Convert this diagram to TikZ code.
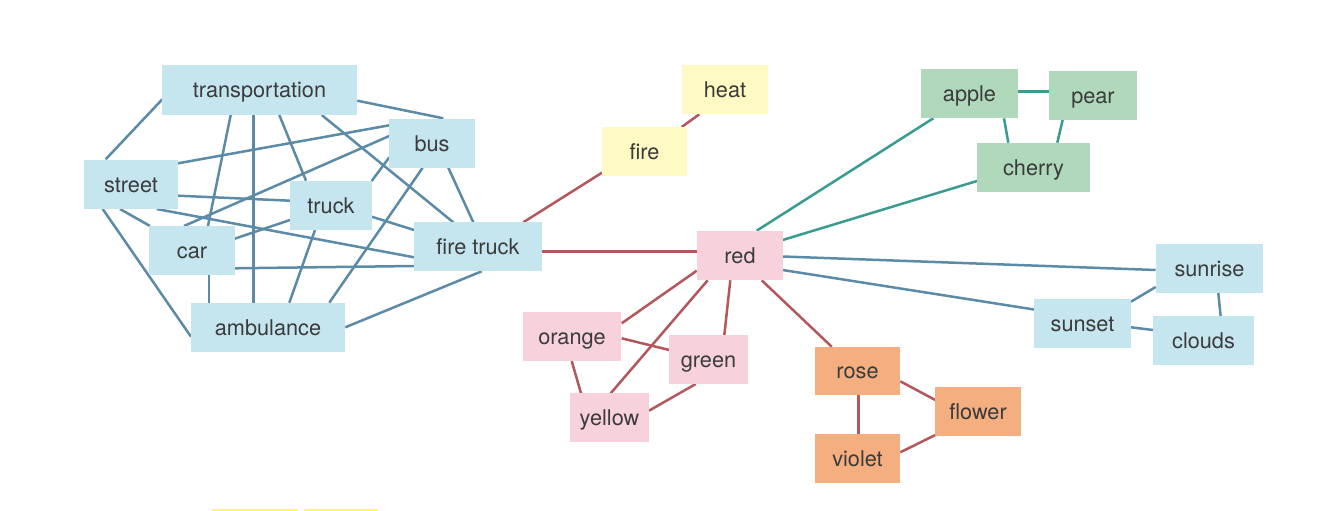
\documentclass[tikz,border=0pt]{standalone}
\usepackage{fontspec}
\setmainfont{TeX Gyre Heros}
\usetikzlibrary{backgrounds,calc}
\definecolor{txt}{HTML}{3B3B3B}
\definecolor{bluebox}{HTML}{C5E6EF}
\definecolor{yellowbox}{HTML}{FFF9C4}
\definecolor{pinkbox}{HTML}{F7D2DD}
\definecolor{greenbox}{HTML}{B0D9BB}
\definecolor{orangebox}{HTML}{F4AE7F}
\definecolor{blueedge}{HTML}{5B8BA7}
\definecolor{rededge}{HTML}{B3575C}
\definecolor{tealedge}{HTML}{3A9B90}
\definecolor{markyellow}{HTML}{FFFF55}
\tikzset{
  box/.style={rectangle, inner sep=0pt, minimum height=49pt, text height=15pt, text depth=0pt,
    font=\fontsize{21.7}{24}\selectfont, text=txt},
  bbox/.style={box, fill=bluebox},
  ybox/.style={box, fill=yellowbox},
  pbox/.style={box, fill=pinkbox},
  gbox/.style={box, fill=greenbox},
  obox/.style={box, fill=orangebox},
  be/.style={draw=blueedge, line width=2.5pt},
  re/.style={draw=rededge, line width=2.5pt},
  te/.style={draw=tealedge, line width=2.5pt},
}
\begin{document}
\begin{tikzpicture}[x=1pt, y=-1pt]
\useasboundingbox (0,0) rectangle (1334,511);
% nodes
\node[bbox, minimum width=195pt] (transportation) at (259.5,90) {transportation};
\node[bbox, minimum width=86pt] (bus) at (432,143.5) {bus};
\node[bbox, minimum width=94pt] (street) at (131,184.5) {street};
\node[bbox, minimum width=82pt] (truck) at (331,205.5) {truck};
\node[bbox, minimum width=86pt] (car) at (192,250.5) {car};
\node[bbox, minimum width=128pt] (firetruck) at (478,246.5) {fire truck};
\node[bbox, minimum width=154pt] (ambulance) at (268,327.5) {ambulance};
\node[ybox, minimum width=86pt] (heat) at (725,89.5) {heat};
\node[ybox, minimum width=85pt] (fire) at (644.5,151.5) {fire};
\node[pbox, minimum width=86pt] (red) at (740,255.5) {red};
\node[gbox, minimum width=97pt] (apple) at (969.5,93.5) {apple};
\node[gbox, minimum width=88pt] (pear) at (1093,95.5) {pear};
\node[gbox, minimum width=113pt] (cherry) at (1033.5,167.5) {cherry};
\node[bbox, minimum width=107pt] (sunrise) at (1209.5,268.5) {sunrise};
\node[bbox, minimum width=97pt] (sunset) at (1082.5,323.5) {sunset};
\node[bbox, minimum width=101pt] (clouds) at (1203.5,340.5) {clouds};
\node[pbox, minimum width=98pt] (orange) at (572,336.5) {orange};
\node[pbox, minimum width=79pt] (green) at (708.5,359.5) {green};
\node[pbox, minimum width=79pt] (yellow) at (609.5,417.5) {yellow};
\node[obox, minimum width=85pt, minimum height=48pt] (rose) at (857.5,371) {rose};
\node[obox, minimum width=86pt] (flower) at (978,411.5) {flower};
\node[obox, minimum width=85pt] (violet) at (857.5,458.5) {violet};
% edges
\begin{scope}[on background layer]
\fill[white] (0,0) rectangle (1334,511);
% left cluster
\draw[be] ($(transportation)+(-97.2,9.3)$) -- ($(street)+(-25.3,-25.2)$);
\draw[be] ($(transportation)+(97.8,10.7)$) -- ($(bus)+(11.3,-25.2)$);
\draw[be] ($(transportation)+(19.8,25)$) -- ($(truck)+(-25,-24.8)$);
\draw[be] ($(transportation)+(-28.8,25)$) -- ($(car)+(16,-24.5)$);
\draw[be] ($(transportation)+(-6.2,25)$) -- ($(ambulance)+(-14.7,-24.5)$);
\draw[be] ($(transportation)+(62.2,25)$) -- ($(firetruck)+(-24.7,-24.2)$);
\draw[be] ($(street)+(47,-21.2)$) -- ($(bus)+(-42.7,-18.2)$);
\draw[be] ($(street)+(47,11.2)$) -- ($(truck)+(-41,-4.8)$);
\draw[be] ($(street)+(-11,24.5)$) -- ($(car)+(-42,-24.5)$);
\draw[be] ($(street)+(25.7,24.5)$) -- ($(firetruck)+(-64,10.8)$);
\draw[be] ($(street)+(-28.3,24.5)$) -- ($(ambulance)+(-77,9.2)$);
\draw[be] ($(bus)+(-42.7,-7.5)$) -- ($(car)+(-8,-24.5)$);
\draw[be] ($(bus)+(-42.7,13.8)$) -- ($(truck)+(40.7,-24.5)$);
\draw[be] ($(bus)+(16.3,24.2)$) -- ($(firetruck)+(-4.7,-24.2)$);
\draw[be] ($(bus)+(-9.3,24.2)$) -- ($(ambulance)+(61.3,-24.8)$);
\draw[be] ($(truck)+(-41,14.5)$) -- ($(car)+(42.7,-11.8)$);
\draw[be] ($(truck)+(40.7,11.2)$) -- ($(firetruck)+(-64,-16.5)$);
\draw[be] ($(truck)+(-16,24.5)$) -- ($(ambulance)+(21.3,-24.8)$);
\draw[be] ($(car)+(42.7,17.8)$) -- ($(firetruck)+(-64,19.5)$);
\draw[be] ($(car)+(17,24.2)$) -- ($(ambulance)+(-59,-24.8)$);
\draw[be] ($(firetruck)+(3.7,24.8)$) -- ($(ambulance)+(77.3,-0.2)$);
% red edges
\draw[re] ($(firetruck)+(45.3,-24.2)$) -- ($(fire)+(-42.5,21.2)$);
\draw[re] ($(fire)+(37.2,-24.5)$) -- ($(heat)+(-25.7,24.8)$);
\draw[re] ($(firetruck)+(64,5.2)$) -- ($(red)+(-43,-3.8)$);
\draw[re] ($(red)+(-43.3,15.2)$) -- ($(orange)+(49.7,-13.2)$);
\draw[re] ($(red)+(-32.3,24.8)$) -- ($(yellow)+(1.2,-24.2)$);
\draw[re] ($(red)+(-9.7,24.8)$) -- ($(green)+(15.8,-24.2)$);
\draw[re] ($(orange)+(49.7,1.8)$) -- ($(green)+(-39.2,-9.5)$);
\draw[re] ($(orange)+(-0.3,24.5)$) -- ($(yellow)+(-28.5,-24.2)$);
\draw[re] ($(green)+(-12.8,24.5)$) -- ($(yellow)+(39.5,-6.8)$);
\draw[re] ($(red)+(21.7,24.8)$) -- ($(rose)+(-25.8,-24.3)$);
\draw[re] ($(rose)+(0.8,24)$) -- ($(violet)+(0.8,-24.5)$);
\draw[re] ($(rose)+(42.8,10.3)$) -- ($(flower)+(-42.7,-11.5)$);
\draw[re] ($(violet)+(42.8,-6.2)$) -- ($(flower)+(-42.7,23.5)$);
% teal edges
\draw[te] ($(red)+(16.7,-24.8)$) -- ($(apple)+(-36.2,24.8)$);
\draw[te] ($(red)+(42.7,-15.5)$) -- ($(cherry)+(-56.5,13.5)$);
\draw[te] ($(apple)+(48.5,-1.8)$) -- ($(pear)+(-44,-3.8)$);
\draw[te] ($(apple)+(34.5,24.8)$) -- ($(cherry)+(-25.2,-24.8)$);
\draw[te] ($(pear)+(-30.3,24.2)$) -- ($(cherry)+(23.8,-24.8)$);
% right blue edges
\draw[be] ($(red)+(42.7,1)$) -- ($(sunrise)+(-53.8,1.5)$);
\draw[be] ($(red)+(42.7,14.5)$) -- ($(sunset)+(-48.5,-14)$);
\draw[be] ($(sunrise)+(-53.8,18.5)$) -- ($(sunset)+(48.5,-21.8)$);
\draw[be] ($(sunrise)+(8.8,24.5)$) -- ($(clouds)+(17.2,-23.8)$);
\draw[be] ($(sunset)+(48.5,3.8)$) -- ($(clouds)+(-50.5,-10.5)$);
\end{scope}
% yellow marks at the bottom
\fill[markyellow] (212,509) rectangle (298,511);
\fill[markyellow] (304,509) rectangle (378,511);
\end{tikzpicture}
\end{document}
